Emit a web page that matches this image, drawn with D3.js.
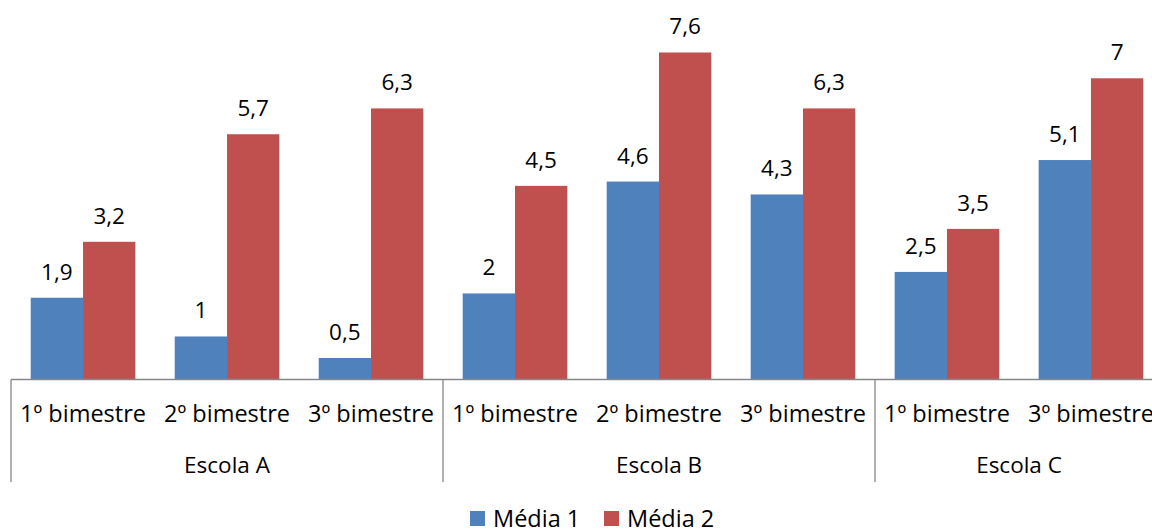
<!DOCTYPE html>
<html>
<head>
<meta charset="utf-8">
<script src="https://cdn.jsdelivr.net/npm/d3@7"></script>
<style>
  html, body { margin: 0; padding: 0; background: #fff; overflow: hidden; }
  svg { display: block; }
  text { font-family: "Open Sans", "DejaVu Sans", sans-serif; fill: #000; }
</style>
</head>
<body>
<svg id="chart" width="1152" height="529"></svg>
<script>
// Period labels (one per bar group) and the school each belongs to
const periods = ["1º bimestre", "2º bimestre", "3º bimestre", "1º bimestre", "2º bimestre", "3º bimestre", "1º bimestre", "3º bimestre"];
const schools = ["Escola A", "Escola A", "Escola A", "Escola B", "Escola B", "Escola B", "Escola C", "Escola C"];
const media1 = [1.9, 1, 0.5, 2, 4.6, 4.3, 2.5, 5.1];
const media2 = [3.2, 5.7, 6.3, 4.5, 7.6, 6.3, 3.5, 7];
const seriesNames = ["Média 1", "Média 2"];
const seriesColors = ["#4F81BD", "#C0504D"];

const svg = d3.select("#chart");
const fmt = v => String(v).replace(".", ",");

const left = 11, step = 144;
const baseY = 379.5;
const x = d3.scaleBand()
  .domain(d3.range(periods.length))
  .range([left, left + step * periods.length])
  .paddingInner(0.2735).paddingOuter(0.137);
const x1 = d3.scaleBand().domain([0, 1]).range([0, x.bandwidth()]);
const y = d3.scaleLinear().domain([0, 8]).range([baseY, baseY - 8 * 43.03]);

const rows = periods.map((p, i) => ({ i, values: [media1[i], media2[i]] }));

const groups = svg.append("g").selectAll("g").data(rows).join("g")
  .attr("transform", d => `translate(${x(d.i)},0)`);

groups.selectAll("rect").data(d => d.values.map((v, s) => ({ v, s }))).join("rect")
  .attr("x", d => x1(d.s))
  .attr("width", x1.bandwidth())
  .attr("y", d => y(d.v))
  .attr("height", d => y(0) - y(d.v))
  .attr("fill", d => seriesColors[d.s]);

groups.selectAll("text.val").data(d => d.values.map((v, s) => ({ v, s }))).join("text")
  .attr("class", "val")
  .attr("x", d => x1(d.s) + x1.bandwidth() / 2)
  .attr("y", d => y(d.v) - 18)
  .attr("text-anchor", "middle")
  .style("font-size", "22.5px")
  .text(d => fmt(d.v));

// Category axis: baseline, period labels, school labels and group separators
const axisColor = "#868686";
svg.append("line")
  .attr("x1", left).attr("x2", left + step * periods.length)
  .attr("y1", baseY).attr("y2", baseY)
  .attr("stroke", axisColor).attr("stroke-width", 1.3);

svg.append("g").selectAll("text").data(periods).join("text")
  .attr("x", (d, i) => left + step * i + step / 2)
  .attr("y", 422)
  .attr("text-anchor", "middle")
  .style("font-size", "23.5px")
  .text(d => d);

const schoolNames = Array.from(new Set(schools));
const spans = schoolNames.map(s => {
  const idx = schools.map((v, i) => v === s ? i : -1).filter(i => i >= 0);
  return { name: s, start: idx[0], end: idx[idx.length - 1] + 1 };
});

svg.append("g").selectAll("text").data(spans).join("text")
  .attr("x", d => left + step * (d.start + d.end) / 2)
  .attr("y", 473)
  .attr("text-anchor", "middle")
  .style("font-size", "22.5px")
  .text(d => d.name);

const seps = [0, ...spans.map(d => d.end)];
svg.append("g").selectAll("line").data(seps).join("line")
  .attr("x1", d => left + step * d).attr("x2", d => left + step * d)
  .attr("y1", baseY).attr("y2", 482)
  .attr("stroke", axisColor).attr("stroke-width", 1.3);

// Legend
const legend = svg.append("g");
const legendX = [470, 604];
seriesNames.forEach((name, s) => {
  legend.append("rect")
    .attr("x", legendX[s]).attr("y", 511)
    .attr("width", 15).attr("height", 15)
    .attr("fill", seriesColors[s]);
  legend.append("text")
    .attr("x", legendX[s] + 23).attr("y", 527)
    .style("font-size", "23.5px")
    .text(name);
});
</script>
</body>
</html>
